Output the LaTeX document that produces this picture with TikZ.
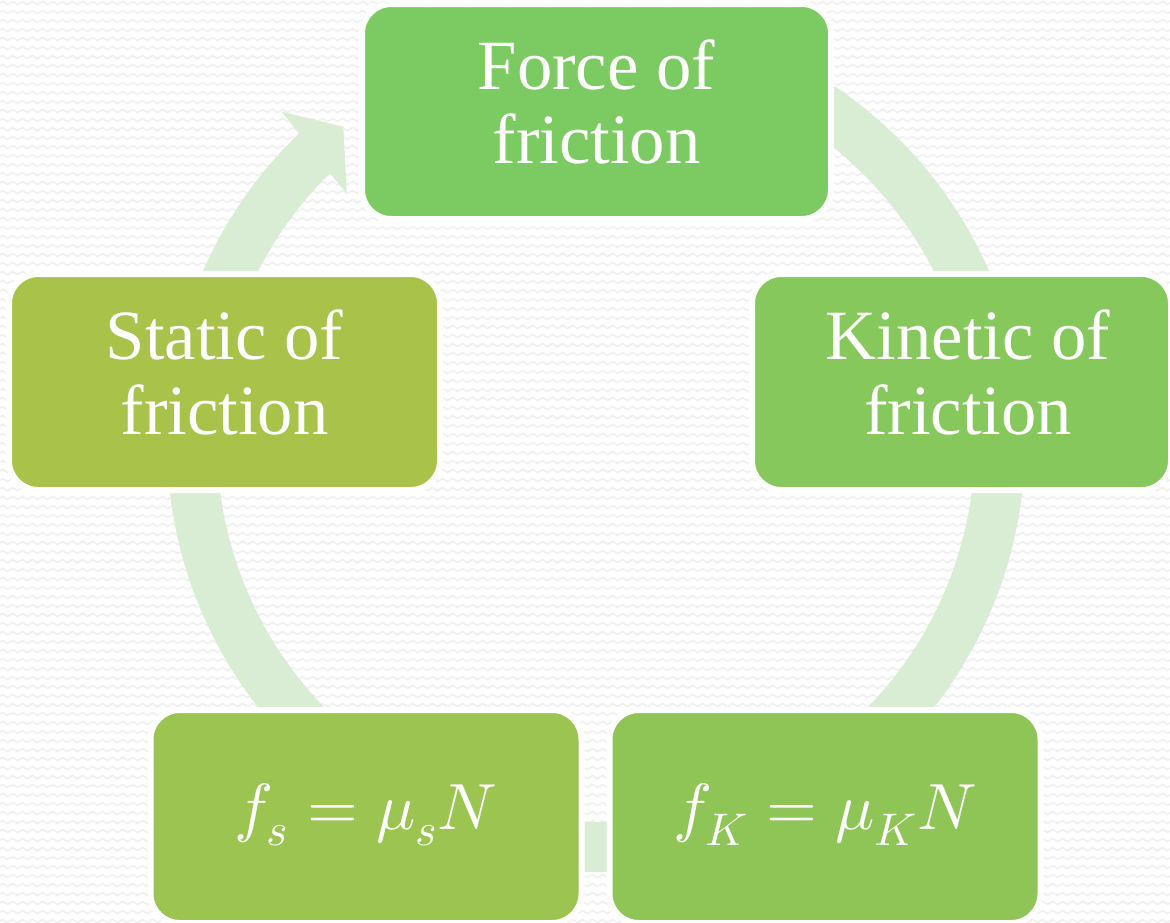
\documentclass[tikz,border=0pt]{standalone}
\usepackage{unicode-math}
\setmainfont{Liberation Serif}
\setmathfont{Latin Modern Math}
\usetikzlibrary{decorations.pathmorphing}
\definecolor{cForce}{RGB}{124,202,98}
\definecolor{cKin}{RGB}{134,200,92}
\definecolor{cFK}{RGB}{143,197,86}
\definecolor{cFS}{RGB}{155,196,80}
\definecolor{cStat}{RGB}{168,194,74}
\definecolor{cRing}{RGB}{217,236,212}
\definecolor{cPat}{RGB}{240,240,240}
\newcommand{\twolines}[2]{\raisebox{4pt}{\begin{tabular}{@{}c@{}}#1\\#2\end{tabular}}}
\begin{document}
\begin{tikzpicture}[x=0.75pt,y=0.75pt,
  cbox/.style={draw=white, line width=4.5pt, rounded corners=22pt, text=white,
    align=center, inner sep=0pt, minimum width=323.25pt, minimum height=162pt},
  wordtxt/.style={font=\fontsize{53}{56}\selectfont},
  mathtxt/.style={font=\fontsize{49}{60}\selectfont},
  ringline/.style={draw=cRing, line width=37.5pt},
  bgline/.style={draw=cPat, line width=1.2pt, decorate,
    decoration={zigzag, segment length=7.5pt, amplitude=1.1pt}}]
\useasboundingbox (0,0) rectangle (1170,-922);
\fill[white] (0,0) rectangle (1170,-922);
\begin{scope}
\clip (0,0) rectangle (1170,-922);
\foreach \r in {0,...,103} {
  \draw[bgline] (-10,{-\r*9-3}) -- (1180,{-\r*9-3});
}
\end{scope}
\coordinate (C) at (596,-443);
% ring connectors
\draw[ringline] ([shift={(120:404)}]C) arc[start angle=120, end angle=-180, radius=404];
% arrow from Static to Force
\fill[cRing] ([shift={(180:429)}]C) arc[start angle=180, end angle=133.8, radius=429]
  -- (281.7,-111.7) -- (343.3,-126.7) -- (346.7,-193.3)
  -- ([shift={(134.6:379)}]C) arc[start angle=134.6, end angle=180, radius=379] -- cycle;
% boxes
\node[cbox, fill=cForce, wordtxt, minimum width=351.75pt, minimum height=161.25pt] (force) at (596.5,-111.5) {\twolines{Force of}{friction}};
\node[cbox, fill=cKin, wordtxt, minimum width=314.25pt] (kinetic) at (961.5,-382) {\hspace*{10pt}\twolines{Kinetic of}{friction}};
\node[cbox, fill=cStat, wordtxt] (static) at (224.5,-382) {\twolines{Static of}{friction}};
\node[cbox, fill=cFS, mathtxt, minimum height=159.75pt] (fs) at (366,-816.5) {\raisebox{15pt}{$f_s = \mu_s N$}};
\node[cbox, fill=cFK, mathtxt, minimum height=159.75pt] (fk) at (825,-816.5) {\raisebox{15pt}{$f_K = \mu_K N$}};
\end{tikzpicture}
\end{document}
